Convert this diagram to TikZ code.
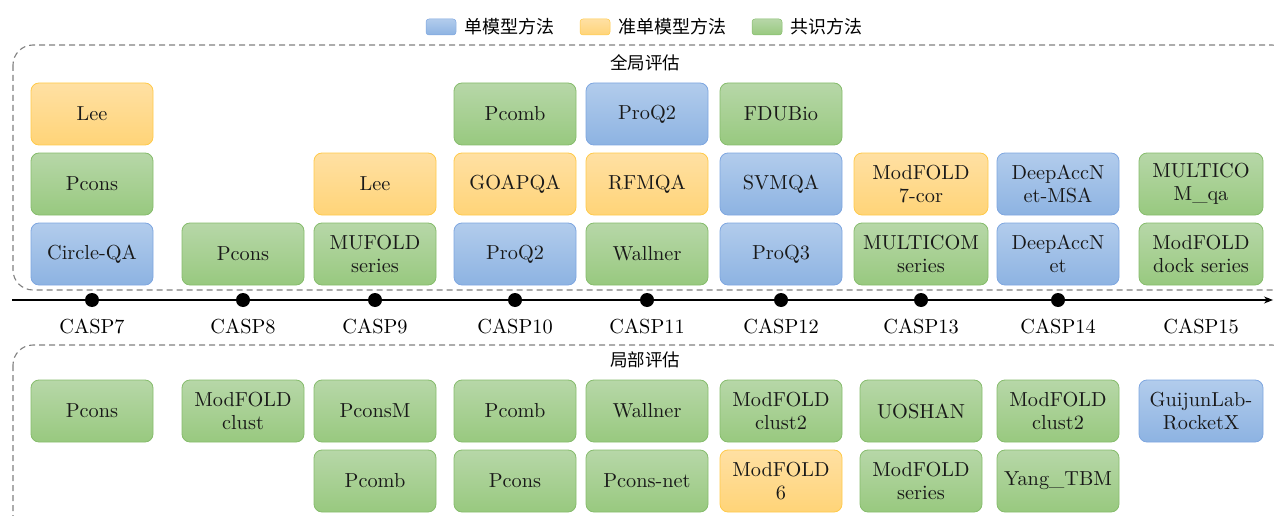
\documentclass[tikz,border=0pt]{standalone}
\usepackage{fontspec}
\setmainfont{lmroman10-regular.otf}
\newfontfamily\cjk{Noto Sans CJK SC}
\usetikzlibrary{arrows.meta}
\definecolor{bTop}{HTML}{B2CCEC}
\definecolor{bBot}{HTML}{8DB3E2}
\definecolor{bLine}{HTML}{7EA6E0}
\definecolor{yTop}{HTML}{FFE0A3}
\definecolor{yBot}{HTML}{FFD478}
\definecolor{yLine}{HTML}{FFCA4A}
\definecolor{gTop}{HTML}{B7D7A8}
\definecolor{gBot}{HTML}{98C97F}
\definecolor{gLine}{HTML}{86BC6C}
\definecolor{frameGray}{HTML}{808080}
\tikzset{
  mbox/.style={rounded corners=8pt, minimum width=122pt, minimum height=62pt,
    align=center, inner sep=2pt, line width=0.8pt,
    font=\fontsize{20.3}{22.5}\selectfont, text=black!90},
  bluebox/.style={mbox, draw=bLine, top color=bTop, bottom color=bBot},
  yelbox/.style={mbox, draw=yLine, top color=yTop, bottom color=yBot},
  grnbox/.style={mbox, draw=gLine, top color=gTop, bottom color=gBot},
  wide/.style={minimum width=134pt},
  wider/.style={minimum width=124pt},
  frame/.style={draw=frameGray, dashed, dash pattern=on 6pt off 4pt, line width=1.1pt, rounded corners=20pt},
  ttl/.style={font=\cjk\fontsize{17.5}{20}\selectfont},
  dotnode/.style={circle, fill=black, minimum size=14pt, inner sep=0pt},
  casp/.style={font=\fontsize{20.3}{22}\selectfont},
  swatch/.style={rounded corners=3pt, minimum width=30pt, minimum height=16pt, inner sep=0pt, line width=0.5pt},
  legtext/.style={font=\cjk\fontsize{18}{20}\selectfont, anchor=west, inner sep=0pt}
}
\begin{document}
\begin{tikzpicture}[x=1pt,y=-1pt]
\useasboundingbox (0,0) rectangle (1274,516);
\begin{scope}
\clip (0,0) rectangle (1274,516);
% legend
\node[swatch, draw=bLine, top color=bTop, bottom color=bBot] (lb) at (441,27) {};
\node[legtext] (lbt) at (464,27) {单模型方法};
\node[swatch, draw=yLine, top color=yTop, bottom color=yBot] (ly) at (595,27) {};
\node[legtext] (lyt) at (618,27) {准单模型方法};
\node[swatch, draw=gLine, top color=gTop, bottom color=gBot] (lg) at (767,27) {};
\node[legtext] (lgt) at (790,27) {共识方法};
% frames
\draw[frame] (13,45) rectangle (1292,290);
\node[ttl] (gtitle) at (645,63) {全局评估};
\draw[frame] (13,345) rectangle (1292,540);
\node[ttl] (ltitle) at (645,360) {局部评估};
% timeline
\coordinate (tls) at (12,300);
\coordinate (tle) at (1273,300);
\draw[line width=1.1pt, -{Stealth[length=9pt,width=7pt]}] (tls) -- (tle);
\foreach \x/\n in {92/7,243/8,375/9,515/10,647/11,781/12,921/13,1058/14}{
  \node[dotnode] (d\n) at (\x,300) {};
  \node[casp] (c\n) at (\x,326) {CASP\n};
}
\node[casp] (c15) at (1201,326) {CASP15};
% global
\node[yelbox] (g7a) at (92,114) {Lee};
\node[grnbox] (g7b) at (92,184) {Pcons};
\node[bluebox] (g7c) at (92,254) {Circle-QA};
\node[grnbox] (g8c) at (243,254) {Pcons};
\node[yelbox] (g9b) at (375,184) {Lee};
\node[grnbox] (g9c) at (375,254) {MUFOLD\\series};
\node[grnbox] (g10a) at (515,114) {Pcomb};
\node[yelbox] (g10b) at (515,184) {GOAPQA};
\node[bluebox] (g10c) at (515,254) {ProQ2};
\node[bluebox] (g11a) at (647,114) {ProQ2};
\node[yelbox] (g11b) at (647,184) {RFMQA};
\node[grnbox] (g11c) at (647,254) {Wallner};
\node[grnbox] (g12a) at (781,114) {FDUBio};
\node[bluebox] (g12b) at (781,184) {SVMQA};
\node[bluebox] (g12c) at (781,254) {ProQ3};
\node[yelbox, wide] (g13b) at (921,184) {ModFOLD\\7-cor};
\node[grnbox, wide] (g13c) at (921,254) {MULTICOM\\series};
\node[bluebox] (g14b) at (1058,184) {DeepAccN\\et-MSA};
\node[bluebox] (g14c) at (1058,254) {DeepAccN\\et};
\node[grnbox, wider] (g15b) at (1201,184) {MULTICO\\M\_qa};
\node[grnbox, wider] (g15c) at (1201,254) {ModFOLD\\dock series};
% local
\node[grnbox] (l7a) at (92,411) {Pcons};
\node[grnbox] (l8a) at (243,411) {ModFOLD\\clust};
\node[grnbox] (l9a) at (375,411) {PconsM};
\node[grnbox] (l9b) at (375,481) {Pcomb};
\node[grnbox] (l10a) at (515,411) {Pcomb};
\node[grnbox] (l10b) at (515,481) {Pcons};
\node[grnbox] (l11a) at (647,411) {Wallner};
\node[grnbox] (l11b) at (647,481) {Pcons-net};
\node[grnbox] (l12a) at (781,411) {ModFOLD\\clust2};
\node[yelbox] (l12b) at (781,481) {ModFOLD\\6};
\node[grnbox] (l13a) at (921,411) {UOSHAN};
\node[grnbox] (l13b) at (921,481) {ModFOLD\\series};
\node[grnbox] (l14a) at (1058,411) {ModFOLD\\clust2};
\node[grnbox] (l14b) at (1058,481) {Yang\_TBM};
\node[bluebox, wider] (l15a) at (1201,411) {GuijunLab-\\RocketX};
\end{scope}
\end{tikzpicture}
\end{document}
